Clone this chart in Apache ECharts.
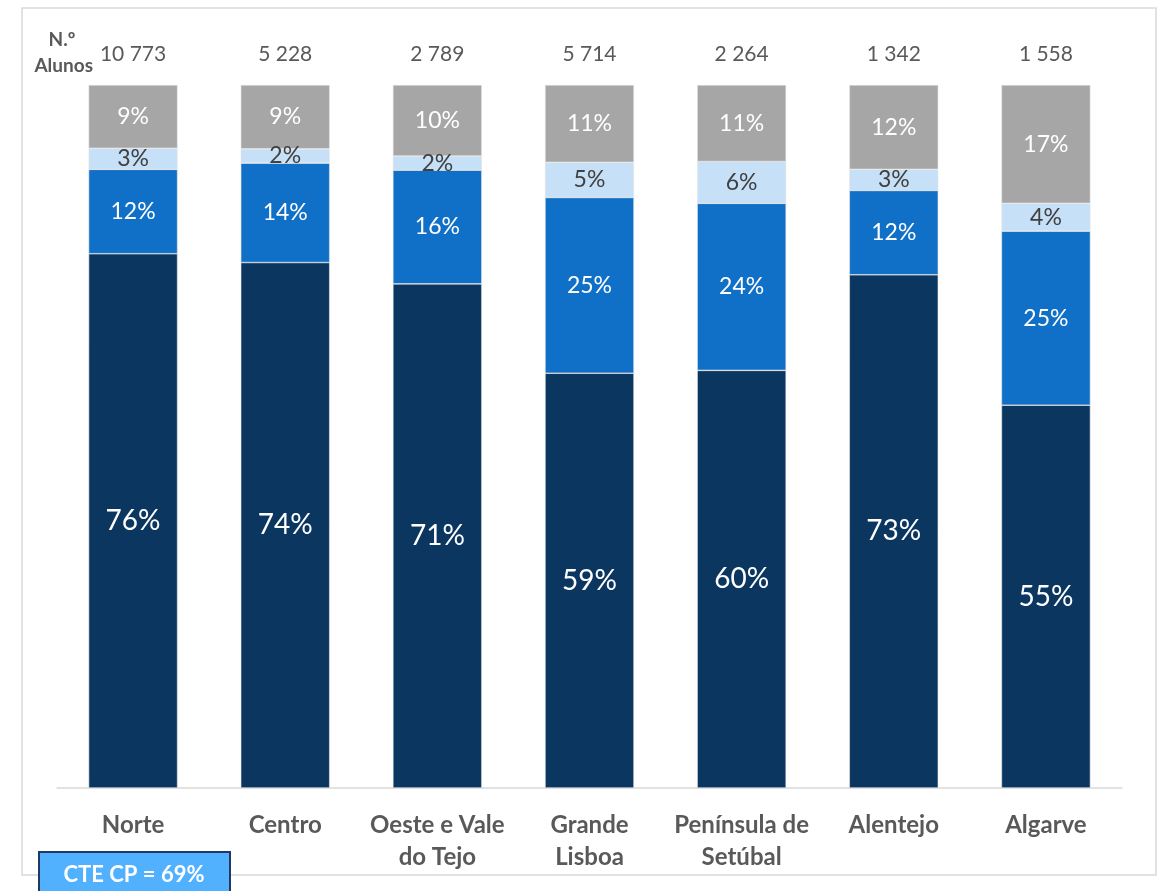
<!DOCTYPE html>
<html>
<head>
<meta charset="utf-8">
<script src="https://cdn.jsdelivr.net/npm/echarts@6/dist/echarts.min.js"></script>
<style>
 html,body{margin:0;padding:0;background:#fff;}
 #chart{width:1166px;height:891px;}
</style>
</head>
<body>
<div id="chart"></div>
<script>
// regioes
var regioes=['Norte','Centro','Oeste e Vale\ndo Tejo','Grande\nLisboa','Península de\nSetúbal','Alentejo','Algarve'];
var alunos=['10 773','5 228','2 789','5 714','2 264','1 342','1 558'];
// percentagens (de baixo para cima)
var serie1=[76,74,71,59,60,73,55];
var serie2=[12,14,16,25,24,12,25];
var serie3=[3,2,2,5,6,3,4];
var serie4=[9,9,10,11,11,12,17];

var cores=['#0B3660','#106FC6','#C6E0F8','#A6A6A6'];
var corLabel=['#fff','#fff','#404040','#fff'];
var tamLabel=[28,23,23,23];

window.onload=function(){
 var chart=echarts.init(document.getElementById("chart"));
 var todas=[serie1,serie2,serie3,serie4];
 var totais=regioes.map(function(r,i){
     return serie1[i]+serie2[i]+serie3[i]+serie4[i];
 });
 var series=todas.map(function(arr,k){
     return {
         type:'bar',
         stack:'total',
         barWidth:89,
         itemStyle:{color:cores[k],borderColor:'#E4E4E4',borderWidth:0.6},
         label:{
             show:true,
             position:'inside',
             color:corLabel[k],
             fontSize:tamLabel[k],
             fontFamily:'Lato',
             formatter:function(p){return arr[p.dataIndex]+'%';}
         },
         data:arr.map(function(v,i){return v/totais[i]*100;})
     };
 });
 var option={
     animation:false,
     textStyle:{fontFamily:'Lato'},
     grid:{left:57,right:44,top:85,bottom:103},
     xAxis:[{
         type:'category',
         data:regioes,
         axisLine:{lineStyle:{color:'#D9D9D9',width:1.5}},
         axisTick:{show:false},
         axisLabel:{
             color:'#595959',fontSize:24,fontWeight:'bold',fontFamily:'Lato',
             lineHeight:32,margin:21,interval:0
         }
     },{
         type:'category',
         position:'top',
         data:alunos,
         axisLine:{show:false},
         axisTick:{show:false},
         axisLabel:{color:'#595959',fontSize:21,fontFamily:'Lato',lineHeight:24,margin:19,interval:0}
     }],
     yAxis:{
         type:'value',
         min:0,max:100,
         show:false
     },
     series:series,
     graphic:[
         {type:'rect',shape:{x:22,y:8,width:1134,height:867},
          style:{fill:'none',stroke:'#D9D9D9',lineWidth:1.5},z:-1},
         {type:'text',x:62,y:40,style:{text:'N.º',fill:'#595959',font:'bold 19px Lato',
          align:'center',verticalAlign:'middle'}},
         {type:'text',x:93,y:66,style:{text:'Alunos',fill:'#595959',font:'bold 19px Lato',
          align:'right',verticalAlign:'middle'}},
         {type:'rect',shape:{x:39,y:852,width:191,height:42},
          style:{fill:'#51B1FF',stroke:'#1F3864',lineWidth:2},z:10},
         {type:'text',x:134,y:875,style:{text:'CTE CP = 69%',fill:'#fff',font:'bold 22px Lato',
          align:'center',verticalAlign:'middle'},z:11}
     ]
 };
 chart.setOption(option);
};
</script>
</body>
</html>
